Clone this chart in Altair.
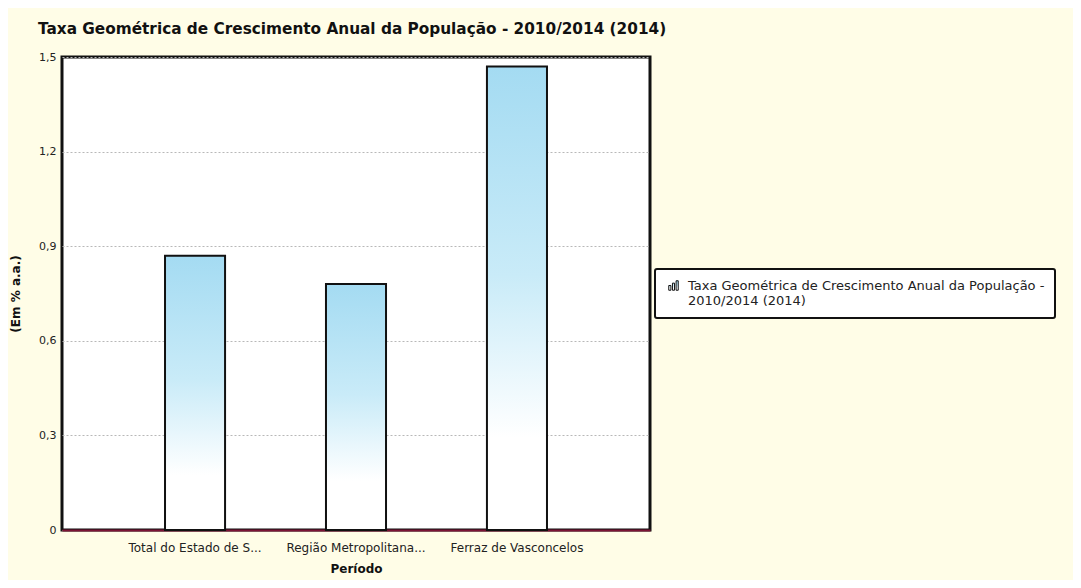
import altair as alt
import pandas as pd

categorias = ["Total do Estado de S...", "Região Metropolitana...", "Ferraz de Vasconcelos"]
valores = [0.87, 0.78, 1.47]
serie = "Taxa Geométrica de Crescimento Anual da População - 2010/2014 (2014)"
ticks_y = [0, 0.3, 0.6, 0.9, 1.2, 1.5]

df = pd.DataFrame({"categoria": categorias, "valor": valores, "serie": [serie] * len(categorias)})

grad = alt.Gradient(
    gradient="linear",
    stops=[
        alt.GradientStop(color="#a4dbf2", offset=0),
        alt.GradientStop(color="#c9ebf8", offset=0.45),
        alt.GradientStop(color="#ffffff", offset=0.8),
        alt.GradientStop(color="#ffffff", offset=1),
    ],
    x1=0, x2=0, y1=0, y2=1,
)

icon = "M-1,1L-1,0L-0.55,0L-0.55,1ZM-0.22,1L-0.22,-0.5L0.22,-0.5L0.22,1ZM0.55,1L0.55,-1L1,-1L1,1Z"

bars = alt.Chart(df).mark_bar(fill=grad, strokeWidth=2).encode(
    x=alt.X(
        "categoria:N",
        sort=categorias,
        scale=alt.Scale(paddingInner=0.627, paddingOuter=0.64),
        axis=alt.Axis(
            title="Período", labelAngle=0, labelFontSize=12, labelColor="#222",
            labelFont="DejaVu Sans", titleFont="DejaVu Sans", titleFontSize=12,
            titleFontWeight="bold", titleColor="#111", titlePadding=10, labelPadding=12,
            ticks=False, domainColor="#7d1435", domainWidth=2, grid=False,
            labelLimit=200,
        ),
    ),
    y=alt.Y(
        "valor:Q",
        scale=alt.Scale(domain=[0, 1.5], nice=False),
        axis=alt.Axis(
            values=ticks_y, title="(Em % a.a.)",
            labelExpr="datum.value == 0 ? '0' : replace(format(datum.value, '.1f'), '.', ',')",
            labelFontSize=11, labelColor="#222", labelFont="DejaVu Sans",
            titleFont="DejaVu Sans", titleFontSize=12, titleFontWeight="bold",
            titleColor="#111", titlePadding=16, labelPadding=6, ticks=False, domain=False,
            grid=True, gridColor="#b8b8b8", gridDash=[2, 2], gridWidth=1,
        ),
    ),
    stroke=alt.Stroke(
        "serie:N",
        scale=alt.Scale(range=["#111111"]),
        legend=alt.Legend(
            title=None, orient="none", legendX=593, legendY=212,
            symbolType=icon, symbolSize=90, symbolFillColor="#9fd3ee",
            symbolStrokeColor="#6fb6dc", symbolStrokeWidth=1,
            labelExpr="['Taxa Geométrica de Crescimento Anual da População -', '2010/2014 (2014)']",
            labelFont="DejaVu Sans", labelFontSize=13, labelColor="#222",
            labelLimit=700, strokeColor="#111", fillColor="#ffffff", padding=10,
            cornerRadius=2, symbolOffset=2, labelOffset=8,
        ),
    ),
).properties(width=588, height=473)

chart = bars.properties(
    title=alt.TitleParams(
        text="Taxa Geométrica de Crescimento Anual da População - 2010/2014 (2014)",
        anchor="start", frame="group", dx=-24, offset=14,
        font="DejaVu Sans", fontSize=15.3, fontWeight="bold", color="#111",
    ),
    autosize=alt.AutoSizeParams(type="none"),
    padding={"left": 54, "top": 49, "right": 423, "bottom": 50},
    background="#fffde7",
).configure_view(
    fill="#ffffff", stroke="#111111", strokeWidth=3,
).configure_legend(
    strokeWidth=2,
)

chart.save("out.html", embed_options={"renderer": "svg", "actions": False})
